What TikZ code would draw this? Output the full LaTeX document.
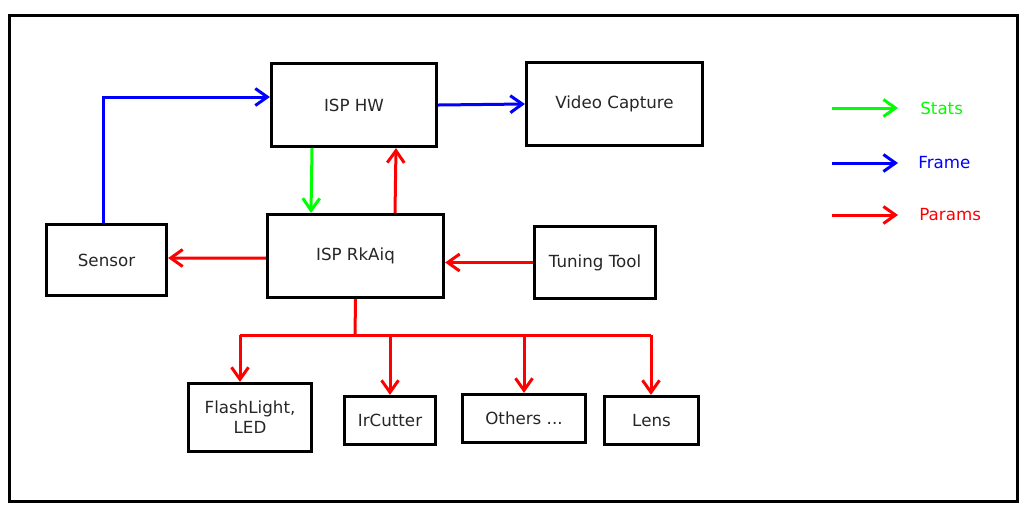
\documentclass[tikz,border=0pt]{standalone}
\usepackage{fontspec}
\setmainfont{DejaVu Sans}
\usepackage{xcolor}
\usetikzlibrary{arrows.meta, positioning}
\tikzset{
  blk/.style={rectangle, draw=black, line width=0.065cm, align=center,
              font=\fontsize{9.5}{11.5}\selectfont, text=black!85, inner sep=2pt},
  wire/.style={line width=0.06cm},
  pipe/.style={wire, -{Straight Barb[length=2.4mm, width=3.4mm, line width=0.06cm]}},
  framep/.style={pipe, draw=blue},
  statp/.style={pipe, draw=green},
  paramp/.style={pipe, draw=red},
  keylbl/.style={font=\fontsize{9.5}{11.5}\selectfont, inner sep=0pt, anchor=west},
}
\begin{document}
\begin{tikzpicture}[x=0.02cm, y=-0.02cm,
  big/.style={blk, minimum width=3.52cm, minimum height=1.66cm}]
  \useasboundingbox (0,0) rectangle (1026,512);
  \draw[line width=0.06cm] (9.5,15.5) rectangle (1017.5,501.5);
  \node[big, minimum width=3.3cm] (hw) at (354,105) {ISP HW};
  \node[big] (vcap) at (614.5,104) {Video Capture};
  \node[blk, minimum width=2.4cm, minimum height=1.42cm] (sensor) at (106.5,260) {Sensor};
  \node[big] (rkaiq) at (355.5,256) {ISP RkAiq};
  \node[blk, minimum width=2.42cm, minimum height=1.44cm] (tool) at (595,262.5) {Tuning Tool};
  \node[blk, minimum width=2.46cm, minimum height=1.36cm] (flash) at (250,417.5) {FlashLight,\\LED};
  \node[blk, minimum width=1.82cm, minimum height=0.96cm] (ircut) at (390,420.5) {IrCutter};
  \node[blk, minimum width=2.46cm, minimum height=0.96cm] (others) at (524,418.5) {Others ...};
  \node[blk, minimum width=1.88cm, minimum height=0.96cm] (lens) at (651.5,420.5) {Lens};
  \draw[framep] ([xshift=-0.07cm]sensor.north) |- ([yshift=0.16cm]hw.west);
  \draw[framep] (hw.east) -- (vcap.west);
  \draw[statp] ([xshift=-0.84cm]hw.south) -- ([xshift=-0.89cm]rkaiq.north);
  \draw[paramp] ([xshift=0.79cm]rkaiq.north) -- ([xshift=0.84cm]hw.south);
  \draw[paramp] ([yshift=-0.04cm]rkaiq.west) -- ([yshift=0.04cm]sensor.east);
  \draw[paramp] (tool.west) -- (tool.west -| rkaiq.east);
  \coordinate (bus) at (355,335);
  \coordinate (busl) at (240,335);
  \coordinate (busr) at (651,335);
  \draw[wire, red] (rkaiq.south) -- (bus); \draw[wire, red] (busl) -- (busr);
  \draw[paramp] (busl) -- (busl |- flash.north); \draw[paramp] (bus -| ircut) -- (ircut.north);
  \draw[paramp] (bus -| others) -- (others.north); \draw[paramp] (busr) -- (busr |- lens.north);
  \node[keylbl, text=green] (kstats) at (920,108) {Stats};
  \node[keylbl, text=blue] (kframe) at (918,163) {Frame};
  \node[keylbl, text=red] (kparams) at (919,215) {Params};
  \coordinate (k1) at (832,108); \coordinate (k2) at (832,163); \coordinate (k3) at (832,215);
  \draw[statp, shorten >=0.44cm] (k1) -- (kstats.west);
  \draw[framep, shorten >=0.4cm] (k2) -- (kframe.west);
  \draw[paramp, shorten >=0.42cm] (k3) -- (kparams.west);
\end{tikzpicture}
\end{document}
